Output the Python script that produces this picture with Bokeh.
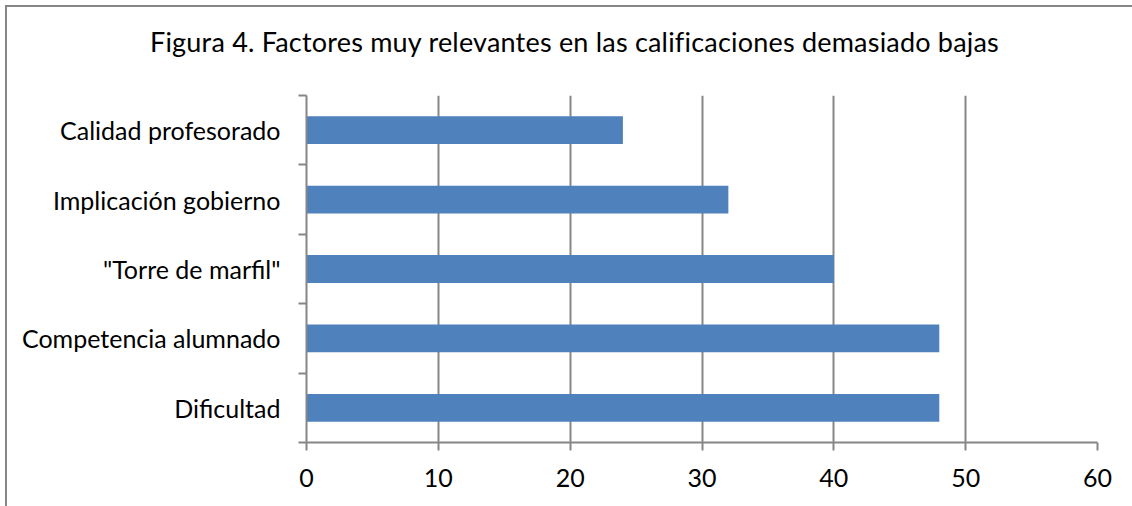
from bokeh.plotting import figure
from bokeh.models import Range1d, FixedTicker, Div
from bokeh.layouts import column
from bokeh.embed import file_html
from bokeh.resources import INLINE

title_text = "Figura 4. Factores muy relevantes en las calificaciones demasiado bajas"
categories = ["Dificultad", "Competencia alumnado", "\"Torre de marfil\"",
              "Implicación gobierno", "Calidad profesorado"]
values = [48, 48, 40, 32, 24]
x_ticks = [0, 10, 20, 30, 40, 50, 60]

FONT = "Lato"
GRAY = "#868686"
FS = "25px"

positions = [i + 0.5 for i in range(len(categories))]

title_div = Div(
    text=(f'<div style="padding-top:21px; padding-left:143px; white-space:nowrap; '
          f'font-family:{FONT}; font-size:27px; letter-spacing:0.2px; line-height:1; '
          f'color:black;">{title_text}</div>'),
    width=1125, height=78, margin=0)

p = figure(width=1125, height=421, output_backend="svg", toolbar_location=None,
           x_range=Range1d(0, 60), y_range=Range1d(0, len(categories)),
           min_border_left=299, min_border_right=35, min_border_top=10,
           min_border_bottom=64, margin=0)
p.outline_line_color = None
p.background_fill_color = "white"
p.border_fill_color = "white"

p.hbar(y=positions, right=values, left=0, height=0.4,
       fill_color="#4F81BD", line_color=None)

# x axis
xa = p.xaxis[0]
xa.ticker = FixedTicker(ticks=x_ticks)
xa.axis_line_color = GRAY
xa.axis_line_width = 2
xa.major_tick_line_color = GRAY
xa.major_tick_line_width = 2
xa.major_tick_out = 8
xa.major_tick_in = 0
xa.minor_tick_line_color = None
xa.major_label_text_font = FONT
xa.major_label_text_font_size = FS
xa.major_label_text_color = "black"
xa.major_label_standoff = 18

# y axis
ya = p.yaxis[0]
ya.ticker = FixedTicker(ticks=positions, minor_ticks=list(range(len(categories) + 1)))
ya.major_label_overrides = {pos: c for pos, c in zip(positions, categories)}
ya.axis_line_color = GRAY
ya.axis_line_width = 2
ya.major_tick_line_color = None
ya.major_tick_out = 0
ya.major_tick_in = 0
ya.minor_tick_line_color = GRAY
ya.minor_tick_line_width = 2
ya.minor_tick_out = 8
ya.minor_tick_in = 0
ya.major_label_text_font = FONT
ya.major_label_text_font_size = FS
ya.major_label_text_color = "black"
ya.major_label_standoff = 18

p.xgrid.ticker = FixedTicker(ticks=x_ticks)
p.xgrid.grid_line_color = GRAY
p.xgrid.grid_line_width = 2
p.ygrid.grid_line_color = None

layout = column(title_div, p, spacing=0)
layout.styles = {"margin-left": "5px", "margin-top": "5px", "background": "white",
                 "border-top": f"2px solid {GRAY}", "border-left": f"2px solid {GRAY}"}

open("out.html", "w").write(file_html(layout, INLINE))
